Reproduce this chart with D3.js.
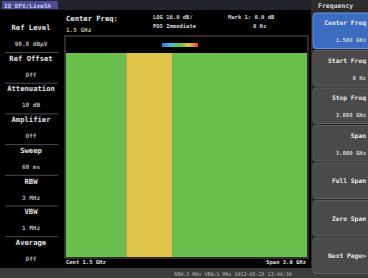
<!DOCTYPE html>
<html>
<head>
<meta charset="utf-8">
<script src="https://cdn.jsdelivr.net/npm/d3@7"></script>
<style>
  html, body { margin: 0; padding: 0; background: #000; }
  svg { display: block; }
  text { font-family: "DejaVu Sans Mono", monospace; font-weight: bold; }
</style>
</head>
<body>
<div id="chart"></div>
<script>
// spectrum settings shown on the left
const leftLabels = ["Ref Level", "Ref Offset", "Attenuation", "Amplifier", "Sweep", "RBW", "VBW", "Average"];
const leftValues = ["98.8 dBµV", "Off", "10 dB", "Off", "60 ms", "3 MHz", "1 MHz", "Off"];

// soft keys on the right
const menuTitle = "Frequency";
const menuKeys = ["Center Freq", "Start Freq", "Stop  Freq", "Span", "Full Span", "Zero Span", "Next Page>"];
const menuValues = ["1.500 GHz", "0 Hz", "3.000 GHz", "3.000 GHz", "", "", ""];

// frequency bands (GHz) and their normalized level
const bandEdges = [0, 0.75, 1.32, 3.0];
const bandLevels = [0.5, 0.75, 0.5];

// colour bar stops
const colorStops = [0, 0.25, 0.5, 0.75, 1];
const colorRange = ["#3b6fd4", "#3fc2dc", "#6bbf4e", "#dfc64a", "#e0452e"];

const width = 368, height = 278;
const svg = d3.select("#chart").append("svg")
  .attr("width", width).attr("height", height);

svg.append("rect").attr("width", width).attr("height", height).attr("fill", "#000");

// top status strip
svg.append("rect").attr("x", 0).attr("y", 0).attr("width", 312).attr("height", 10).attr("fill", "#23232e");
svg.append("rect").attr("x", 2).attr("y", 1).attr("width", 56).attr("height", 8).attr("fill", "#4b4c94");
svg.append("text").attr("x", 4).attr("y", 7.5).attr("font-size", 6).attr("fill", "#c8c8f0").text("IQ  DPX/LiveSA");

// left settings panel
const rowH = 30.7;
leftLabels.forEach((lab, i) => {
  const y0 = 20 + i * rowH;
  svg.append("text").attr("x", 31).attr("y", y0 + 10).attr("text-anchor", "middle")
    .attr("font-size", 7.2).attr("fill", "#e0e0e0").text(lab);
  svg.append("text").attr("x", 31).attr("y", y0 + 26).attr("text-anchor", "middle")
    .attr("font-size", 6).attr("fill", "#b5b5b5").text(leftValues[i]);
  if (i < leftLabels.length - 1) {
    svg.append("line").attr("x1", 5).attr("x2", 58)
      .attr("y1", y0 + 32.5).attr("y2", y0 + 32.5)
      .attr("stroke", "#4a4a4a").attr("stroke-width", 1);
  }
});

// plot header
svg.append("text").attr("x", 66).attr("y", 21).attr("font-size", 7.2).attr("fill", "#e6e6e6").text("Center Freq:");
svg.append("text").attr("x", 66).attr("y", 32).attr("font-size", 6).attr("fill", "#bdbd9a").text("1.5 GHz");
svg.append("text").attr("x", 153).attr("y", 19).attr("font-size", 5.5).attr("fill", "#d8d8d8").text("LOG 10.0 dB/");
svg.append("text").attr("x", 153).attr("y", 28).attr("font-size", 5.5).attr("fill", "#d8d8d8").text("POS    Immediate");
svg.append("text").attr("x", 228).attr("y", 19).attr("font-size", 5.5).attr("fill", "#d8d8d8").text("Mark 1:  0.0 dB");
svg.append("text").attr("x", 253).attr("y", 28).attr("font-size", 5.5).attr("fill", "#d8d8d8").text("0 Hz");

// plot frame
const plot = { left: 66, right: 307, top: 53, bottom: 257 };
svg.append("rect").attr("x", 65).attr("y", 36).attr("width", 243).attr("height", 222)
  .attr("fill", "#000").attr("stroke", "#5a5a5a").attr("stroke-width", 1);

const x = d3.scaleLinear().domain([bandEdges[0], bandEdges[bandEdges.length - 1]])
  .range([plot.left, plot.right]);
const color = d3.scaleLinear().domain(colorStops).range(colorRange);

// colour bar legend
const grad = svg.append("defs").append("linearGradient").attr("id", "cbar");
colorStops.forEach((s, i) => grad.append("stop").attr("offset", s).attr("stop-color", colorRange[i]));
svg.append("rect").attr("x", 162).attr("y", 43).attr("width", 36).attr("height", 4).attr("fill", "url(#cbar)");

// waterfall bands
svg.selectAll("rect.band")
  .data(bandLevels)
  .enter().append("rect")
  .attr("class", "band")
  .attr("x", (d, i) => x(bandEdges[i]))
  .attr("width", (d, i) => x(bandEdges[i + 1]) - x(bandEdges[i]))
  .attr("y", plot.top)
  .attr("height", plot.bottom - plot.top)
  .attr("fill", d => color(d));

// footer labels
svg.append("text").attr("x", 66).attr("y", 264).attr("font-size", 5.5).attr("fill", "#e0e0e0").text("Cent 1.5 GHz");
svg.append("text").attr("x", 306).attr("y", 264).attr("text-anchor", "end").attr("font-size", 5.5).attr("fill", "#e0e0e0").text("Span 3.0 GHz");

// bottom status strip
svg.append("rect").attr("x", 0).attr("y", 268).attr("width", width).attr("height", 10).attr("fill", "#3c3c3c");
svg.append("text").attr("x", 233).attr("y", 275.5).attr("text-anchor", "middle").attr("font-size", 5).attr("fill", "#9a9a9a")
  .text("RBW:3 MHz  VBW:1 MHz   2013-05-28 13:44:30");

// right soft-key menu
svg.append("rect").attr("x", 311).attr("y", 0).attr("width", 57).attr("height", 268).attr("fill", "#2c2c2c");
svg.append("text").attr("x", 318).attr("y", 8).attr("font-size", 6.5).attr("fill", "#dcdcdc").text(menuTitle);
const keyH = 37.5;
menuKeys.forEach((k, i) => {
  const y0 = 13 + i * keyH;
  svg.append("rect").attr("x", 313).attr("y", y0).attr("width", 60).attr("height", keyH - 2).attr("rx", 3)
    .attr("fill", i === 0 ? "#3c6cc0" : "#4a4a4a").attr("stroke", i === 0 ? "#6a94dc" : "#5e5e5e");
  const hasVal = menuValues[i] !== "";
  svg.append("text").attr("x", 366).attr("y", y0 + (hasVal ? 12 : 20)).attr("text-anchor", "end")
    .attr("font-size", 6.3).attr("fill", "#e8e8e8").text(k);
  if (hasVal) {
    svg.append("text").attr("x", 366).attr("y", y0 + 29).attr("text-anchor", "end").attr("font-size", 5.6)
      .attr("fill", "#cfcfcf").text(menuValues[i]);
  }
});
</script>
</body>
</html>
